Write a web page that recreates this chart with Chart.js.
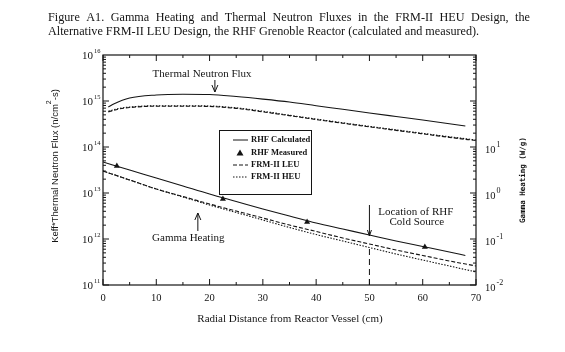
<!DOCTYPE html>
<html>
<head>
<meta charset="utf-8">
<title>Figure A1</title>
<script src="https://cdn.jsdelivr.net/npm/chart.js@4.4.1/dist/chart.umd.min.js"></script>
<style>
    html, body { margin: 0; padding: 0; background: #fff; }
    #wrap { width: 565px; height: 352px; }
</style>
</head>
<body>
<div id="wrap"><canvas id="figA1" width="565" height="352"></canvas></div>
<script>
// ---- data ----
// thermal neutron flux (n/cm2-s), left axis
const thermalRhfX = [1, 2, 5, 10, 15, 20, 25, 30, 35, 40, 45, 50, 55, 60, 65, 68];
const thermalRhf  = [7.4e14, 8.6e14, 1.16e15, 1.35e15, 1.40e15, 1.38e15, 1.25e15, 1.10e15, 9.5e14, 7.9e14, 6.6e14, 5.5e14, 4.6e14, 3.85e14, 3.2e14, 2.85e14];
const thermalFrmX = [1, 3, 5, 10, 15, 20, 25, 30, 35, 40, 45, 50, 55, 60, 65, 70];
const thermalLeu  = [5.8e14, 6.7e14, 7.2e14, 7.7e14, 7.7e14, 7.6e14, 6.9e14, 5.8e14, 4.8e14, 3.95e14, 3.28e14, 2.74e14, 2.3e14, 1.93e14, 1.62e14, 1.38e14];
const thermalHeu  = [6.0e14, 6.9e14, 7.4e14, 7.9e14, 7.9e14, 7.8e14, 7.1e14, 6.0e14, 4.9e14, 4.05e14, 3.36e14, 2.81e14, 2.36e14, 1.98e14, 1.67e14, 1.42e14];

// gamma heating (W/g), right axis
const gammaRhfX = [0, 5, 10, 15, 20, 25, 30, 35, 40, 45, 50, 55, 60, 65, 68];
const gammaRhf  = [4.72, 3.16, 2.12, 1.42, 0.95, 0.653, 0.449, 0.316, 0.223, 0.165, 0.122, 0.0905, 0.0688, 0.0522, 0.0438];
const gammaFrmX = [0, 5, 10, 15, 20, 25, 30, 35, 40, 45, 50, 55, 60, 65, 70];
const gammaLeu  = [3.0, 1.92, 1.22, 0.84, 0.577, 0.406, 0.286, 0.201, 0.146, 0.105, 0.0778, 0.0577, 0.0438, 0.0333, 0.0259];
const gammaHeu  = [3.0, 1.92, 1.22, 0.82, 0.548, 0.377, 0.259, 0.178, 0.125, 0.0905, 0.0653, 0.0472, 0.0349, 0.0259, 0.0192];
const measuredX = [2.6, 22.5, 38.3, 60.4];
const measured  = [3.86, 0.74, 0.234, 0.067];

// axis ticks
const xTicks = [0, 10, 20, 30, 40, 50, 60, 70];
const fluxExponents = [11, 12, 13, 14, 15, 16];
const gammaExponents = [-2, -1, 0, 1];

const titleLines = [
    'Figure A1.  Gamma Heating and Thermal Neutron Fluxes in the FRM-II HEU Design, the',
    'Alternative FRM-II LEU Design, the RHF Grenoble Reactor (calculated and measured).'
];

const INK = '#141414';
const SERIF = '"Liberation Serif", "Times New Roman", serif';
const SANS = '"Liberation Sans", Arial, sans-serif';
const MONO = '"DejaVu Sans Mono", "Liberation Mono", monospace';

function pts(xs, ys) {
    return xs.map((x, i) => ({ x: x, y: ys[i] }));
}

function seg(ctx, x1, y1, x2, y2) {
    ctx.beginPath();
    ctx.moveTo(x1, y1);
    ctx.lineTo(x2, y2);
    ctx.stroke();
}

// "10" with a small raised exponent
function drawPower(ctx, exp, x, y, size, supSize, rise, anchorRight) {
    ctx.textBaseline = 'middle';
    ctx.textAlign = 'left';
    ctx.font = size + 'px ' + SERIF;
    const wb = ctx.measureText('10').width;
    const left = anchorRight ? x - wb : x;
    ctx.fillText('10', left, y);
    ctx.font = supSize + 'px ' + SERIF;
    ctx.fillText(exp, left + wb + 1, y - rise);
}

// justified single line
function drawJustified(ctx, text, x, y, width) {
    const words = text.split(/\s+/);
    let total = 0;
    words.forEach(w => { total += ctx.measureText(w).width; });
    const gap = (width - total) / (words.length - 1);
    let cx = x;
    words.forEach(w => {
        ctx.fillText(w, cx, y);
        cx += ctx.measureText(w).width + gap;
    });
}

const decor = {
    id: 'decor',
    afterDraw(chart) {
        const ctx = chart.ctx;
        const xs = chart.scales.x, yl = chart.scales.y, yr = chart.scales.y2;
        const a = chart.chartArea;
        ctx.save();
        ctx.strokeStyle = INK;
        ctx.fillStyle = INK;

        // frame
        ctx.lineWidth = 1.2;
        ctx.strokeRect(a.left, a.top, a.right - a.left, a.bottom - a.top);

        // inward ticks on top and bottom
        ctx.lineWidth = 1;
        for (let v = 0; v <= 70; v += 5) {
            const px = xs.getPixelForValue(v);
            const len = v % 10 === 0 ? 6 : 3;
            seg(ctx, px, a.bottom, px, a.bottom - len);
            seg(ctx, px, a.top, px, a.top + len);
        }
        // log ticks, left and right
        for (let e = 11; e < 16; e++) {
            for (let m = 1; m < 10; m++) {
                const py = yl.getPixelForValue(m * Math.pow(10, e));
                seg(ctx, a.left, py, a.left + (m === 1 ? 6 : 3), py);
            }
        }
        for (let e = -2; e < 3; e++) {
            for (let m = 1; m < 10; m++) {
                const py = yr.getPixelForValue(m * Math.pow(10, e));
                seg(ctx, a.right, py, a.right - (m === 1 ? 6 : 3), py);
            }
        }

        // tick labels
        fluxExponents.forEach(e => {
            drawPower(ctx, String(e), a.left - 10, yl.getPixelForValue(Math.pow(10, e)) + 1, 11, 6.5, 5, true);
        });
        gammaExponents.forEach(e => {
            drawPower(ctx, String(e), a.right + 9, yr.getPixelForValue(Math.pow(10, e)) + 3, 10.5, 8, 5, false);
        });

        // title
        ctx.textBaseline = 'alphabetic';
        ctx.textAlign = 'left';
        ctx.font = '12.2px ' + SERIF;
        drawJustified(ctx, titleLines[0], 48, 21, 482);
        ctx.fillText(titleLines[1], 48, 35);

        // left axis title, rotated
        ctx.save();
        ctx.translate(55, 166);
        ctx.rotate(-Math.PI / 2);
        ctx.textBaseline = 'middle';
        const p1 = 'Keff*Thermal Neutron Flux (n/cm', p2 = '2', p3 = '-s)';
        ctx.font = '9.5px ' + SANS;
        const w1 = ctx.measureText(p1).width, w3 = ctx.measureText(p3).width;
        ctx.font = '7px ' + SANS;
        const w2 = ctx.measureText(p2).width;
        let cx = -(w1 + w2 + w3) / 2;
        ctx.font = '9.5px ' + SANS;
        ctx.fillText(p1, cx, 0);
        ctx.font = '7px ' + SANS;
        ctx.fillText(p2, cx + w1, -6);
        ctx.font = '9.5px ' + SANS;
        ctx.fillText(p3, cx + w1 + w2, 0);
        ctx.restore();

        // right axis title
        ctx.save();
        ctx.translate(523, 180);
        ctx.rotate(-Math.PI / 2);
        ctx.textAlign = 'center';
        ctx.textBaseline = 'middle';
        ctx.font = 'bold 7.5px ' + MONO;
        ctx.fillText('Gamma Heating (W/g)', 0, 0);
        ctx.restore();

        // x axis title
        ctx.textAlign = 'center';
        ctx.textBaseline = 'middle';
        ctx.font = '11px ' + SERIF;
        ctx.fillText('Radial Distance from Reactor Vessel (cm)', 290, 319);

        // annotations
        ctx.font = '11px ' + SERIF;
        ctx.fillText('Thermal Neutron Flux', xs.getPixelForValue(18.6), 74);
        let ax = xs.getPixelForValue(21);
        seg(ctx, ax, 80, ax, 92);
        ctx.beginPath();
        ctx.moveTo(ax - 3, 85); ctx.lineTo(ax, 92); ctx.lineTo(ax + 3, 85);
        ctx.stroke();

        ctx.fillText('Gamma Heating', xs.getPixelForValue(16), 238);
        ax = xs.getPixelForValue(17.8);
        seg(ctx, ax, 231, ax, 213);
        ctx.beginPath();
        ctx.moveTo(ax - 3, 220); ctx.lineTo(ax, 213); ctx.lineTo(ax + 3, 220);
        ctx.stroke();

        ctx.fillText('Location of RHF', xs.getPixelForValue(58.7), 212);
        ctx.fillText('Cold Source', xs.getPixelForValue(58.9), 222);
        ax = xs.getPixelForValue(50);
        seg(ctx, ax, 205, ax, 236);
        ctx.beginPath();
        ctx.moveTo(ax - 2, 230); ctx.lineTo(ax, 236); ctx.lineTo(ax + 2, 230);
        ctx.stroke();
        ctx.setLineDash([6, 4]);
        seg(ctx, ax, 249, ax, a.bottom);
        ctx.setLineDash([]);

        // legend box
        ctx.lineWidth = 1;
        ctx.strokeRect(219.5, 130.5, 92, 64);
        const rows = [
            ['RHF Calculated', 'solid', 140],
            ['RHF Measured', 'tri', 153],
            ['FRM-II LEU', [4, 2], 165],
            ['FRM-II HEU', [1.5, 1.5], 177]
        ];
        ctx.textAlign = 'left';
        ctx.font = 'bold 8.5px ' + SERIF;
        rows.forEach(r => {
            const y = r[2];
            if (r[1] === 'tri') {
                ctx.beginPath();
                ctx.moveTo(240, y - 3.5); ctx.lineTo(243.5, y + 2.5); ctx.lineTo(236.5, y + 2.5);
                ctx.closePath();
                ctx.fill();
            } else {
                ctx.setLineDash(r[1] === 'solid' ? [] : r[1]);
                seg(ctx, 233, y, 248, y);
                ctx.setLineDash([]);
            }
            ctx.fillText(r[0], 251, y);
        });

        ctx.restore();
    }
};

const lineStyle = {
    borderColor: INK,
    borderWidth: 1.1,
    pointRadius: 0,
    fill: false,
    cubicInterpolationMode: 'monotone'
};

new Chart(document.getElementById('figA1'), {
    type: 'line',
    data: {
        datasets: [
            Object.assign({ label: 'RHF Calculated (flux)', data: pts(thermalRhfX, thermalRhf), yAxisID: 'y' }, lineStyle),
            Object.assign({ label: 'FRM-II LEU (flux)', data: pts(thermalFrmX, thermalLeu), yAxisID: 'y', borderDash: [4, 2] }, lineStyle),
            Object.assign({ label: 'FRM-II HEU (flux)', data: pts(thermalFrmX, thermalHeu), yAxisID: 'y', borderDash: [1.5, 1.5] }, lineStyle),
            Object.assign({ label: 'RHF Calculated (gamma)', data: pts(gammaRhfX, gammaRhf), yAxisID: 'y2' }, lineStyle),
            Object.assign({ label: 'FRM-II LEU (gamma)', data: pts(gammaFrmX, gammaLeu), yAxisID: 'y2', borderDash: [4, 2] }, lineStyle),
            Object.assign({ label: 'FRM-II HEU (gamma)', data: pts(gammaFrmX, gammaHeu), yAxisID: 'y2', borderDash: [1.5, 1.5] }, lineStyle),
            {
                label: 'RHF Measured',
                data: pts(measuredX, measured),
                yAxisID: 'y2',
                showLine: false,
                pointStyle: 'triangle',
                pointRadius: 3.5,
                pointBackgroundColor: INK,
                pointBorderColor: INK,
                pointBorderWidth: 0
            }
        ]
    },
    options: {
        responsive: false,
        animation: false,
        devicePixelRatio: 1,
        layout: { padding: { top: 55, left: 103, right: 89, bottom: 0 } },
        plugins: {
            legend: { display: false },
            tooltip: { enabled: false }
        },
        scales: {
            x: {
                type: 'linear',
                min: 0,
                max: 70,
                afterBuildTicks: function(scale) {
                    scale.ticks = xTicks.map(v => ({ value: v }));
                },
                afterFit: function(scale) { scale.height = 67; },
                grid: { display: false, drawTicks: false },
                border: { display: false },
                ticks: {
                    padding: 7,
                    color: INK,
                    font: { family: SERIF, size: 10.5 }
                }
            },
            y: {
                type: 'logarithmic',
                position: 'left',
                min: 1e11,
                max: 1e16,
                display: false
            },
            y2: {
                type: 'logarithmic',
                position: 'right',
                min: 1e-2,
                max: 1e3,
                display: false
            }
        }
    },
    plugins: [decor]
});
</script>
</body>
</html>
